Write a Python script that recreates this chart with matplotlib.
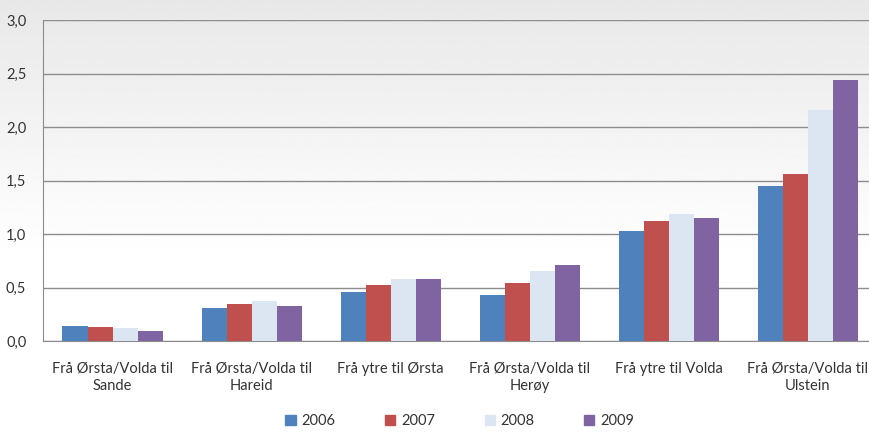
import numpy as np
import matplotlib.pyplot as plt
from matplotlib.patches import Patch
from matplotlib.ticker import FuncFormatter

categories = [
    "Frå Ørsta/Volda til\nSande",
    "Frå Ørsta/Volda til\nHareid",
    "Frå ytre til Ørsta",
    "Frå Ørsta/Volda til\nHerøy",
    "Frå ytre til Volda",
    "Frå Ørsta/Volda til\nUlstein",
]
years = ["2006", "2007", "2008", "2009"]
v2006 = [0.14, 0.31, 0.46, 0.43, 1.03, 1.45]
v2007 = [0.13, 0.35, 0.52, 0.54, 1.12, 1.56]
v2008 = [0.12, 0.37, 0.58, 0.65, 1.19, 2.16]
v2009 = [0.09, 0.33, 0.58, 0.71, 1.15, 2.44]
series = [v2006, v2007, v2008, v2009]
colors = ["#4F81BD", "#C0504D", "#DCE6F2", "#8064A2"]

plt.rcParams["font.family"] = ["Lato", "DejaVu Sans"]

fig = plt.figure(figsize=(8.69, 4.32), dpi=100)

# soft grey backdrop like the slide template
bg = fig.add_axes([0, 0, 1, 1], zorder=-10)
t = np.linspace(0, 1, 256)
grad = np.clip(0.91 + 0.09 * t / 0.6, 0, 1).reshape(-1, 1)
bg.imshow(grad, aspect="auto", cmap="gray", vmin=0, vmax=1, extent=[0, 1, 0, 1], origin="upper")
bg.axis("off")

ax = fig.add_axes([0.0495, 0.2106, 0.96, 0.743])
ax.patch.set_alpha(0)

x = np.arange(len(categories))
w = 0.18
for i, (vals, col, yr) in enumerate(zip(series, colors, years)):
    ax.bar(x + (i - 1.5) * w, vals, width=w, color=col, label=yr, zorder=3)

ax.set_xlim(-0.5, len(categories) - 0.5)
ax.set_ylim(0, 3.0)
ax.set_yticks(np.arange(0, 3.01, 0.5))
ax.yaxis.set_major_formatter(FuncFormatter(lambda v, _: f"{v:.1f}".replace(".", ",")))
ax.grid(axis="y", color="#8c8c8c", linewidth=1.0, zorder=0)
ax.set_xticks(x)
ax.set_xticklabels(categories, fontsize=10.5, color="#333333", linespacing=1.3)
ax.tick_params(axis="x", length=0, pad=15)
ax.tick_params(axis="y", length=0, pad=12, labelsize=10.5, labelcolor="#333333")
for side in ["top", "right"]:
    ax.spines[side].set_visible(False)
ax.spines["left"].set_color("#8c8c8c")
ax.spines["bottom"].set_color("#8c8c8c")

handles = [Patch(color=c, label=y) for c, y in zip(colors, years)]
fig.legend(handles=handles, loc="lower center", bbox_to_anchor=(0.529, -0.022), ncol=4,
           frameon=False, fontsize=10.5, handlelength=0.7, handleheight=0.7,
           handletextpad=0.4, columnspacing=3.4, labelcolor="#333333")

fig.savefig("out.png", dpi=100)
